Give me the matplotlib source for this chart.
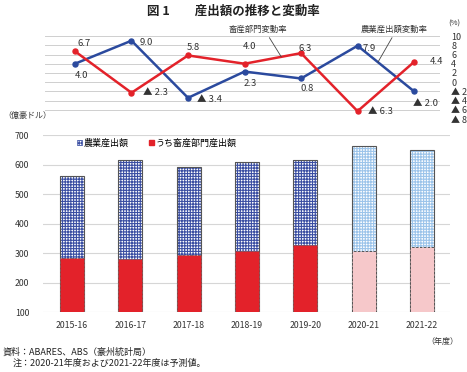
import matplotlib
matplotlib.use('Agg')
import matplotlib.pyplot as plt
import matplotlib.patches as mpatches
import numpy as np

plt.rcParams['font.family'] = ['Noto Sans CJK JP', 'DejaVu Sans']
plt.rcParams['hatch.linewidth'] = 0.8

# 年度
years = ['2015-16', '2016-17', '2017-18', '2018-19', '2019-20', '2020-21', '2021-22']
# 農業産出額（億豪ドル）
total_output = [562, 614, 593, 609, 614, 662, 649]
# うち畜産部門産出額（億豪ドル）
livestock_output = [284, 280, 295, 307, 327, 307, 320]
# 予測値かどうか
forecast = [False, False, False, False, False, True, True]
# 変動率（%）
total_rate = [4.0, 9.0, -3.4, 2.3, 0.8, 7.9, -2.0]
livestock_rate = [6.7, -2.3, 5.8, 4.0, 6.3, -6.3, 4.4]

blue = '#2B4A9E'
red = '#E3222A'


def fmt(v):
    # マイナスは▲で表す
    return f'▲ {abs(v):.1f}' if v < 0 else f'{v:.1f}'


def rate_tick(v):
    v = int(round(v))
    return f'▲ {abs(v)}' if v < 0 else f'{v}'


def main():
    fig = plt.figure(figsize=(4.67, 3.72), dpi=100)
    x = np.arange(len(years))

    # ---- 上段：変動率 ----
    ax1 = fig.add_axes([0.0964, 0.680, 0.846, 0.223])
    ax1.set_xlim(-0.53, 6.46)
    ax1.set_ylim(-8, 10)
    ticks = np.arange(-8, 11, 2)
    ax1.set_yticks(ticks)
    ax1.set_yticklabels([rate_tick(t) for t in ticks], ha='left')
    ax1.yaxis.tick_right()
    ax1.tick_params(axis='y', length=0, pad=8, labelsize=6.5, colors='#333333')
    ax1.set_xticks([])
    for s in ax1.spines.values():
        s.set_visible(False)
    ax1.grid(axis='y', color='#CFCFCF', linewidth=0.7)
    ax1.set_axisbelow(True)

    ax1.plot(x, total_rate, color=blue, lw=1.8, marker='o', ms=3.6, zorder=3)
    ax1.plot(x, livestock_rate, color=red, lw=1.8, marker='o', ms=3.6, zorder=3)

    # データラベル（オフセットはpt）
    blue_off = [((5, -8.6), 'center'), ((5.8, -1), 'left'), ((6.5, -1), 'left'),
                ((4.3, -8.6), 'center'), ((4.3, -7.2), 'center'), ((3.6, -1.7), 'left'),
                ((8, -9), 'center')]
    red_off = [((6.5, 5.8), 'center'), ((8, 0), 'left'), ((3.6, 5.5), 'center'),
               ((3.6, 12.5), 'center'), ((3, 3.6), 'center'), ((7.2, 0), 'left'),
               ((11.5, 0), 'left')]
    for i in range(len(years)):
        (dx, dy), ha = blue_off[i]
        ax1.annotate(fmt(total_rate[i]), (x[i], total_rate[i]), xytext=(dx, dy),
                     textcoords='offset points', ha=ha, va='center', fontsize=6.8,
                     color='#333333', annotation_clip=False)
        (dx, dy), ha = red_off[i]
        ax1.annotate(fmt(livestock_rate[i]), (x[i], livestock_rate[i]), xytext=(dx, dy),
                     textcoords='offset points', ha=ha, va='center', fontsize=6.8,
                     color='#333333', annotation_clip=False)

    # 系列名と引き出し線
    xr = 3.65
    ax1.annotate('畜産部門変動率', (xr, np.interp(xr, x, livestock_rate)), xytext=(3.24, 11.5),
                 ha='center', va='center', fontsize=6, color='#333333', annotation_clip=False,
                 arrowprops=dict(arrowstyle='-', color='#444444', lw=0.6, relpos=(0.65, 0.0),
                                 shrinkA=1, shrinkB=0))
    xb = 5.36
    ax1.annotate('農業産出額変動率', (xb, np.interp(xb, x, total_rate)), xytext=(5.65, 11.5),
                 ha='center', va='center', fontsize=6, color='#333333', annotation_clip=False,
                 arrowprops=dict(arrowstyle='-', color='#444444', lw=0.6, relpos=(0.5, 0.0),
                                 shrinkA=1, shrinkB=0))

    # ---- 下段：産出額 ----
    ax2 = fig.add_axes([0.092, 0.160, 0.8715, 0.477])
    ax2.set_xlim(-0.5, 6.48)
    ax2.set_ylim(100, 700)
    ax2.set_yticks(range(100, 701, 100))
    ax2.set_xticks(x)
    ax2.set_xticklabels(years)
    ax2.tick_params(axis='y', length=0, pad=10, labelsize=6.3, colors='#333333')
    ax2.tick_params(axis='x', length=0, pad=6, labelsize=6.3, colors='#333333')
    for s in ax2.spines.values():
        s.set_visible(False)
    ax2.grid(axis='y', color='#D6D6D6', linewidth=0.8)
    ax2.set_axisbelow(True)

    w = 0.41
    for i in range(len(years)):
        hatch_col = '#9CC4EA' if forecast[i] else '#3B4FA3'
        red_col = '#F6C8CA' if forecast[i] else red
        # 農業産出額（格子模様）
        ax2.bar(x[i], total_output[i] - 100, bottom=100, width=w, color='white',
                edgecolor=hatch_col, hatch='++++++', linewidth=0, zorder=2)
        ax2.bar(x[i], total_output[i] - 100, bottom=100, width=w, fill=False,
                edgecolor='#555555', linewidth=0.8, zorder=3)
        # うち畜産部門
        ax2.bar(x[i], livestock_output[i] - 100, bottom=100, width=w, color=red_col,
                edgecolor='#8A5A5A' if not forecast[i] else '#555555', linewidth=0.7,
                linestyle=(0, (2.5, 1.5)), zorder=4)

    h1 = mpatches.Patch(facecolor='white', edgecolor='#3B4FA3', hatch='++++++', linewidth=0.5)
    h2 = mpatches.Patch(facecolor=red, edgecolor=red)
    ax2.legend([h1, h2], ['農業産出額', 'うち畜産部門産出額'], ncol=2, frameon=False,
               loc='center', bbox_to_anchor=(0.28, 0.955), fontsize=6.5,
               handlelength=0.55, handleheight=0.55, handletextpad=0.2, columnspacing=2.2)

    # テキスト
    fig.text(0.5, 1 - 11 / 372, '図 1　　産出額の推移と変動率', ha='center', va='center',
             fontsize=9, fontweight='bold', color='#222222')
    fig.text(448 / 467, 1 - 24 / 372, '(%)', ha='left', va='center', fontsize=5.5, color='#333333')
    fig.text(3 / 467, 1 - 115 / 372, '（億豪ドル）', ha='left', va='center', fontsize=5.8,
             color='#333333')
    fig.text(458 / 467, 1 - 341 / 372, '（年度）', ha='right', va='center', fontsize=5.8,
             color='#333333')
    fig.text(3 / 467, 1 - 352 / 372, '資料：ABARES、ABS（豪州統計局）', ha='left', va='center',
             fontsize=6.5, color='#222222')
    fig.text(13 / 467, 1 - 363 / 372, '注：2020-21年度および2021-22年度は予測値。', ha='left',
             va='center', fontsize=6.5, color='#222222')

    fig.savefig('out.png', dpi=100)


if __name__ == '__main__':
    main()
